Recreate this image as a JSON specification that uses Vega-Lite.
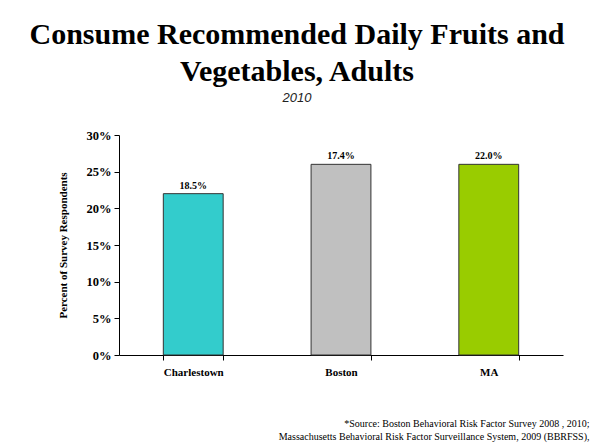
{
  "$schema": "https://vega.github.io/schema/vega-lite/v6.json",
  "autosize": "none",
  "width": 444,
  "height": 220,
  "padding": {"left": 119, "top": 135, "right": 30, "bottom": 92},
  "background": "white",
  "title": {
    "text": ["Consume Recommended Daily Fruits and", "Vegetables, Adults"],
    "subtitle": "2010",
    "anchor": "middle",
    "dx": -44,
    "font": "Liberation Serif",
    "fontSize": 30,
    "fontWeight": "bold",
    "lineHeight": 37,
    "color": "black",
    "subtitleFont": "Liberation Sans",
    "subtitleFontStyle": "italic",
    "subtitleFontSize": 13,
    "subtitleColor": "#222",
    "subtitlePadding": 5,
    "offset": 24
  },
  "data": {
    "values": [
      {"area": "Charlestown", "value": 22, "label": "18.5%"},
      {"area": "Boston", "value": 26, "label": "17.4%"},
      {"area": "MA", "value": 26, "label": "22.0%"}
    ]
  },
  "encoding": {
    "x": {
      "field": "area",
      "type": "nominal",
      "sort": null,
      "scale": {"paddingInner": 0.595, "paddingOuter": 0.3},
      "axis": {
        "title": ["*Source: Boston Behavioral Risk Factor Survey 2008 , 2010;", "Massachusetts Behavioral Risk Factor Surveillance System, 2009 (BBRFSS),"],
        "titleFont": "Liberation Serif",
        "titleFontSize": 10,
        "titleFontWeight": "normal",
        "titleColor": "black",
        "titleAnchor": "end",
        "titleAlign": "right",
        "titleBaseline": "alphabetic",
        "titleX": 470,
        "titleY": 71,
        "titleLineHeight": 13,
        "labelAngle": 0,
        "labelFont": "Liberation Serif",
        "labelFontSize": 11,
        "labelFontWeight": "bold",
        "labelColor": "black",
        "labelPadding": 6,
        "tickBand": "extent",
        "tickColor": "black",
        "tickSize": 5,
        "domainColor": "black"
      }
    },
    "y": {
      "field": "value",
      "type": "quantitative",
      "scale": {"domain": [0, 30]},
      "axis": {
        "title": "Percent of Survey Respondents",
        "titleFont": "Liberation Serif",
        "titleFontSize": 11,
        "titleFontWeight": "bold",
        "titleColor": "black",
        "titlePadding": 18,
        "values": [0, 5, 10, 15, 20, 25, 30],
        "labelExpr": "datum.value + '%'",
        "labelFont": "Liberation Serif",
        "labelFontSize": 12.5,
        "labelFontWeight": "bold",
        "labelColor": "black",
        "labelPadding": 3,
        "tickColor": "black",
        "tickSize": 5,
        "domainColor": "black",
        "grid": false
      }
    }
  },
  "layer": [
    {
      "mark": {"type": "bar", "stroke": "#333333", "strokeWidth": 1},
      "encoding": {
        "color": {
          "field": "area",
          "type": "nominal",
          "scale": {"domain": ["Charlestown", "Boston", "MA"], "range": ["#33CCCC", "#C0C0C0", "#99CC00"]},
          "legend": null
        }
      }
    },
    {
      "mark": {"type": "text", "dy": -8, "font": "Liberation Serif", "fontSize": 10, "fontWeight": "bold", "color": "black"},
      "encoding": {"text": {"field": "label"}}
    }
  ],
  "config": {"view": {"stroke": null}}
}
